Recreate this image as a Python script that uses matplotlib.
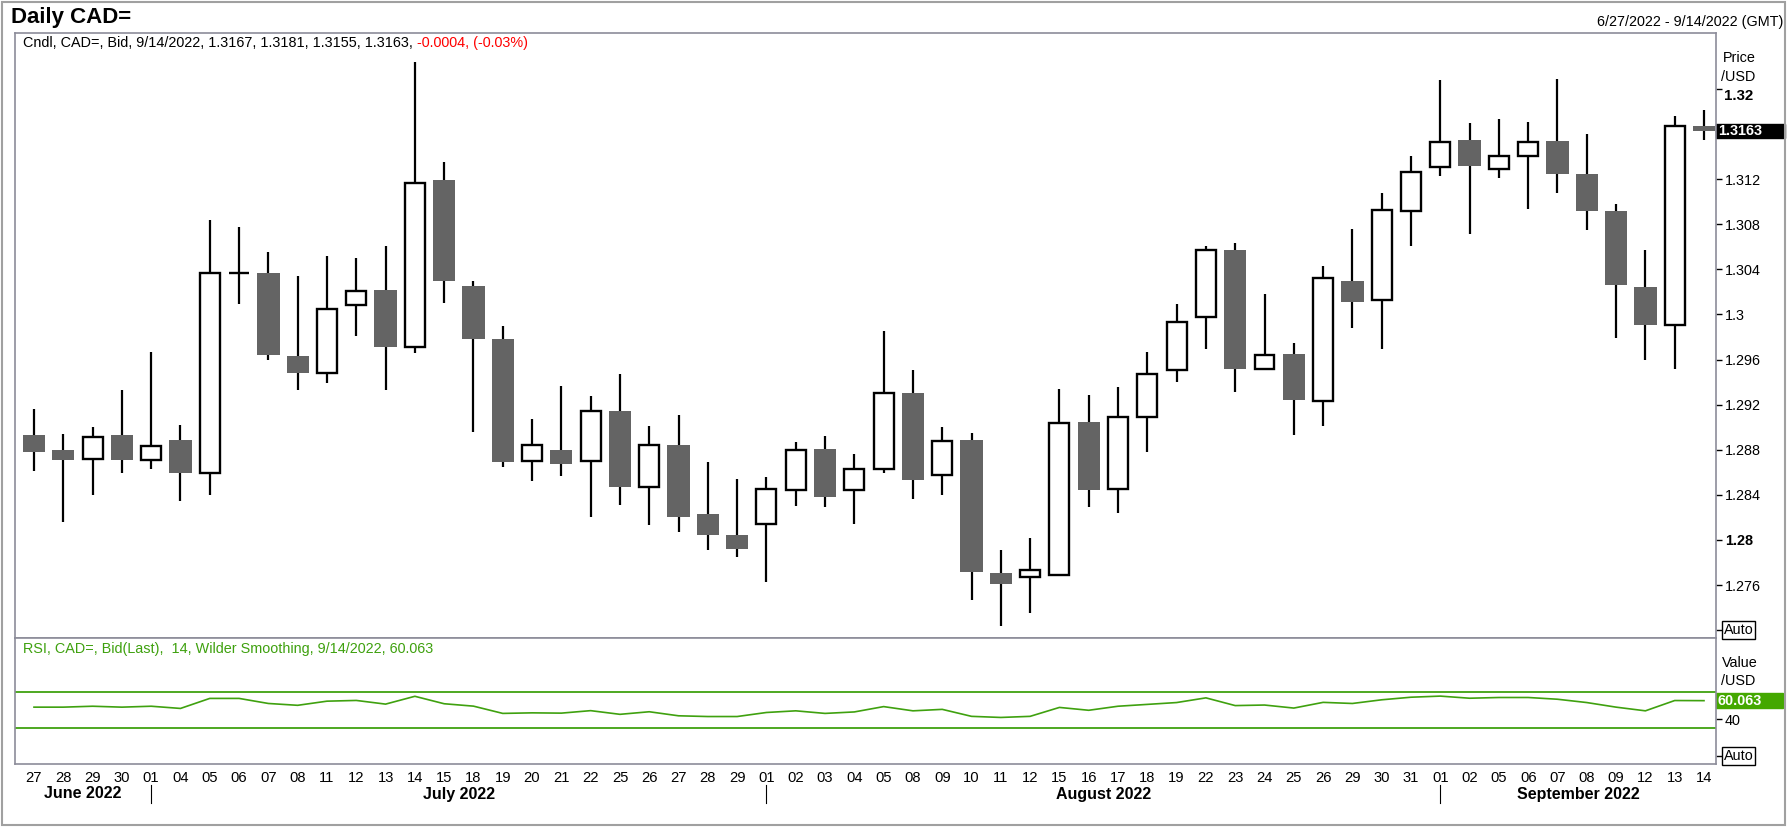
import numpy as np
import pandas as pd
import matplotlib
matplotlib.use('Agg')
import matplotlib.pyplot as plt
from matplotlib import transforms
from matplotlib.patches import Rectangle

plt.rcParams['font.family'] = ['Liberation Sans', 'DejaVu Sans']

### donnees
dates = ['2022-06-27', '2022-06-28', '2022-06-29', '2022-06-30',
         '2022-07-01', '2022-07-04', '2022-07-05', '2022-07-06', '2022-07-07',
         '2022-07-08', '2022-07-11', '2022-07-12', '2022-07-13', '2022-07-14',
         '2022-07-15', '2022-07-18', '2022-07-19', '2022-07-20', '2022-07-21',
         '2022-07-22', '2022-07-25', '2022-07-26', '2022-07-27', '2022-07-28',
         '2022-07-29', '2022-08-01', '2022-08-02', '2022-08-03', '2022-08-04',
         '2022-08-05', '2022-08-08', '2022-08-09', '2022-08-10', '2022-08-11',
         '2022-08-12', '2022-08-15', '2022-08-16', '2022-08-17', '2022-08-18',
         '2022-08-19', '2022-08-22', '2022-08-23', '2022-08-24', '2022-08-25',
         '2022-08-26', '2022-08-29', '2022-08-30', '2022-08-31', '2022-09-01',
         '2022-09-02', '2022-09-05', '2022-09-06', '2022-09-07', '2022-09-08',
         '2022-09-09', '2022-09-12', '2022-09-13', '2022-09-14']

opens = [1.2893, 1.2880, 1.2872, 1.2893, 1.2871, 1.2889, 1.2859, 1.3037, 1.3037,
         1.2963, 1.2948, 1.3008, 1.3022, 1.2971, 1.3119, 1.3025, 1.2978, 1.2870,
         1.2880, 1.2870, 1.2914, 1.2847, 1.2884, 1.2823, 1.2804, 1.2814, 1.2844,
         1.2881, 1.2844, 1.2863, 1.2930, 1.2858, 1.2889, 1.2771, 1.2767, 1.2769,
         1.2905, 1.2845, 1.2909, 1.2951, 1.2998, 1.3057, 1.2952, 1.2965, 1.2923,
         1.3030, 1.3013, 1.3092, 1.3131, 1.3155, 1.3129, 1.3141, 1.3154, 1.3125,
         1.3092, 1.3024, 1.2991, 1.3167]
highs = [1.2916, 1.2894, 1.2900, 1.2933, 1.2967, 1.2902, 1.3084, 1.3078, 1.3055,
         1.3034, 1.3052, 1.3050, 1.3061, 1.3224, 1.3135, 1.3030, 1.2990, 1.2907,
         1.2937, 1.2928, 1.2947, 1.2901, 1.2911, 1.2869, 1.2854, 1.2856, 1.2887,
         1.2892, 1.2876, 1.2985, 1.2951, 1.2900, 1.2895, 1.2791, 1.2802, 1.2934,
         1.2929, 1.2936, 1.2967, 1.3009, 1.3061, 1.3063, 1.3018, 1.2975, 1.3043,
         1.3076, 1.3108, 1.3141, 1.3208, 1.3170, 1.3173, 1.3171, 1.3209, 1.3160,
         1.3098, 1.3057, 1.3176, 1.3181]
lows = [1.2861, 1.2816, 1.2840, 1.2859, 1.2863, 1.2835, 1.2840, 1.3009, 1.2960,
        1.2933, 1.2939, 1.2981, 1.2933, 1.2966, 1.3010, 1.2896, 1.2865, 1.2852,
        1.2857, 1.2820, 1.2831, 1.2813, 1.2807, 1.2791, 1.2785, 1.2763, 1.2830,
        1.2829, 1.2814, 1.2859, 1.2836, 1.2840, 1.2747, 1.2724, 1.2735, 1.2768,
        1.2829, 1.2824, 1.2878, 1.2940, 1.2969, 1.2931, 1.2952, 1.2893, 1.2901,
        1.2988, 1.2969, 1.3061, 1.3123, 1.3071, 1.3121, 1.3094, 1.3108, 1.3075,
        1.2979, 1.2960, 1.2952, 1.3155]
closes = [1.2878, 1.2871, 1.2891, 1.2871, 1.2883, 1.2859, 1.3037, 1.3037, 1.2964,
          1.2948, 1.3005, 1.3021, 1.2971, 1.3117, 1.3030, 1.2978, 1.2869, 1.2884,
          1.2867, 1.2914, 1.2847, 1.2884, 1.2820, 1.2804, 1.2792, 1.2845, 1.2880,
          1.2838, 1.2863, 1.2930, 1.2853, 1.2888, 1.2772, 1.2761, 1.2773, 1.2904,
          1.2844, 1.2909, 1.2947, 1.2993, 1.3057, 1.2952, 1.2964, 1.2924, 1.3032,
          1.3011, 1.3093, 1.3126, 1.3153, 1.3132, 1.3141, 1.3153, 1.3125, 1.3092,
          1.3026, 1.2991, 1.3167, 1.3163]

rsi = [53.0, 53.0, 54.0, 53.0, 54.0, 51.6, 62.5, 62.5, 57.0, 55.0, 59.5, 60.3,
       56.3, 64.8, 56.7, 54.1, 46.2, 46.8, 46.5, 49.2, 45.2, 48.0, 43.6, 42.8,
       42.8, 47.2, 49.0, 46.2, 47.8, 53.6, 49.0, 50.6, 43.0, 41.8, 43.0, 52.7,
       49.6, 54.0, 56.0, 58.0, 63.1, 54.7, 55.3, 52.0, 58.2, 57.0, 61.0, 63.8,
       65.0, 62.7, 63.5, 63.5, 61.6, 58.0, 53.0, 49.0, 60.2, 60.063]

price_ticks = [1.272, 1.276, 1.28, 1.284, 1.288, 1.292, 1.296, 1.3, 1.304,
               1.308, 1.312, 1.316, 1.32]
rsi_ticks = [0, 40]

###############################################################################
GRIS_CADRE = '#8c8c99'
GRIS_BOUGIE = '#646464'
VERT = '#3fa10f'
FS = 10.4  #taille des textes courants

W, H = 1788, 827
fig = plt.figure(figsize=(W / 100, H / 100), dpi=100)

def boite(g, h, d, b):  # pixels -> fraction de figure
    return [g / W, 1 - b / H, (d - g) / W, (b - h) / H]

ax = fig.add_axes(boite(15, 33, 1716, 637.7))
ax2 = fig.add_axes(boite(15, 637.7, 1716, 764), sharex=ax)

o, h, l, c = map(np.array, (opens, highs, lows, closes))
x = np.arange(len(dates))
up = c >= o

#bougies : meches puis corps
ax.vlines(x, l, h, color='black', lw=1.6, zorder=1)
ax.bar(x[~up], (o - c)[~up], bottom=c[~up], width=0.76, color=GRIS_BOUGIE,
       linewidth=0, zorder=2)
ax.bar(x[up], (c - o)[up], bottom=o[up], width=0.68, facecolor='white',
       edgecolor='black', linewidth=1.7, zorder=2)

ax.set_xlim(-0.648, 57.41)
ax.set_ylim(1.27133, 1.32497)

for a in (ax, ax2):
    for s in a.spines.values():
        s.set_color(GRIS_CADRE)
        s.set_linewidth(1.2)
    a.yaxis.tick_right()
    a.tick_params(axis='y', direction='out', length=4, width=1, color='black',
                  pad=2.5, labelsize=FS)

ax.set_yticks(price_ticks)
ax.set_yticklabels(['' if v in (1.272, 1.316, 1.32) else f'{v:g}' for v in price_ticks])
for t, v in zip(ax.get_yticklabels(), price_ticks):
    if v == 1.28:
        t.set_fontweight('bold')
ax.tick_params(axis='x', bottom=False, labelbottom=False)

blend = transforms.blended_transform_factory(ax.transAxes, ax.transData)
ax.annotate('1.32', xy=(1, 1.32), xycoords=blend, xytext=(8, -7),
            textcoords='offset pixels', ha='left', va='center',
            fontsize=10.8, fontweight='bold', annotation_clip=False)

#etiquette du dernier cours
ax.add_patch(Rectangle((1.0, c[-1] - 0.00062), 69 / 1701, 0.00124,
                       transform=blend, color='black', clip_on=False))
ax.annotate(f'{c[-1]:.4f}', xy=(1, c[-1]), xycoords=blend, xytext=(2, 0),
            textcoords='offset pixels', ha='left', va='center', color='white',
            fontsize=FS, fontweight='bold', annotation_clip=False)
ax.annotate('Auto', xy=(1, 1.272), xycoords=blend, xytext=(8, 0),
            textcoords='offset pixels', ha='left', va='center', fontsize=FS,
            annotation_clip=False,
            bbox=dict(boxstyle='square,pad=0.12', fc='white', ec='black', lw=1))

#panneau RSI
ax2.plot(x, rsi, color=VERT, lw=1.2)
ax2.axhline(70, color=VERT, lw=1.3)
ax2.axhline(30, color=VERT, lw=1.3)
ax2.set_ylim(-8.8, 128.5)
ax2.set_yticks(rsi_ticks)
ax2.set_yticklabels(['', '40'])

blend2 = transforms.blended_transform_factory(ax2.transAxes, ax2.transData)
ax2.add_patch(Rectangle((1.0, rsi[-1] - 8.2), 67 / 1701, 16.4,
                        transform=blend2, color='#44a800', clip_on=False))
ax2.annotate(f'{rsi[-1]:.3f}', xy=(1, rsi[-1]), xycoords=blend2, xytext=(2, 0),
             textcoords='offset pixels', ha='left', va='center', color='white',
             fontsize=FS, fontweight='bold', annotation_clip=False)
ax2.annotate('Auto', xy=(1, 0), xycoords=blend2, xytext=(8, 0),
             textcoords='offset pixels', ha='left', va='center', fontsize=FS,
             annotation_clip=False,
             bbox=dict(boxstyle='square,pad=0.12', fc='white', ec='black', lw=1))

#axe des dates
d = pd.to_datetime(dates)
ax2.set_xticks(x)
ax2.set_xticklabels(d.strftime('%d'))
ax2.tick_params(axis='x', length=0, pad=5, labelsize=10.6)

mois = d.month.values
debuts = [i for i in range(1, len(d)) if mois[i] != mois[i - 1]]
bornes = [ax.get_xlim()[0]] + debuts + [ax.get_xlim()[1]]
tr = transforms.blended_transform_factory(ax2.transData, fig.transFigure)
for i in debuts:
    ax2.plot([i, i], [1 - 785 / H, 1 - 803 / H], transform=tr, color='black',
             lw=0.8, clip_on=False)
for k in range(len(bornes) - 1):
    nom = d[int(np.ceil(bornes[k]))].strftime('%B %Y')
    ax2.text((bornes[k] + bornes[k + 1]) / 2, 1 - 794 / H, nom, transform=tr,
             ha='center', va='center', fontsize=11.5, fontweight='bold')

#textes d'en-tete
fig.text(11 / W, 1 - 18 / H, 'Daily CAD=', fontsize=16, fontweight='bold',
         va='center')
fig.text(1783 / W, 1 - 22 / H, '6/27/2022 - 9/14/2022 (GMT)', ha='right',
         va='center', fontsize=FS)
chg = c[-1] - o[-1]
t1 = fig.text(23 / W, 1 - 43 / H,
              f'Cndl, CAD=, Bid, 9/14/2022, {o[-1]:.4f}, {h[-1]:.4f}, '
              f'{l[-1]:.4f}, {c[-1]:.4f},', va='center', fontsize=FS)
ax.annotate(f' {chg:.4f}, ({chg / o[-1] * 100:.2f}%)', xy=(1, 0.5), xycoords=t1,
            ha='left', va='center', fontsize=FS, color='#ff0000',
            annotation_clip=False)
fig.text(23 / W, 1 - 649 / H,
         f'RSI, CAD=, Bid(Last),  14, Wilder Smoothing, 9/14/2022, {rsi[-1]:.3f}',
         va='center', fontsize=FS, color=VERT)
fig.text(1723 / W, 1 - 58 / H, 'Price', va='center', fontsize=FS)
fig.text(1721 / W, 1 - 77 / H, '/USD', va='center', fontsize=FS)
fig.text(1722 / W, 1 - 663 / H, 'Value', va='center', fontsize=FS)
fig.text(1721 / W, 1 - 681 / H, '/USD', va='center', fontsize=FS)

#cadre exterieur
fig.patches.append(Rectangle((2 / W, 2 / H), 1783 / W, 823 / H,
                             transform=fig.transFigure, fill=False,
                             ec='#a0a0a0', lw=1.5))

fig.savefig('out.png', dpi=100, facecolor='white')
